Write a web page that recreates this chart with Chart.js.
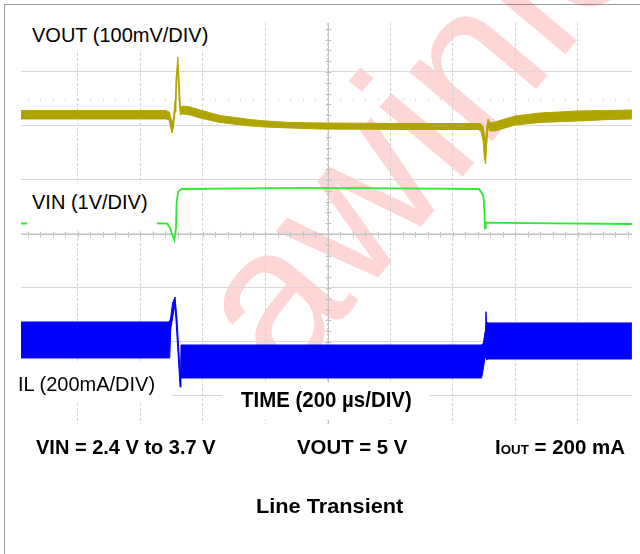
<!DOCTYPE html>
<html>
<head>
<meta charset="utf-8">
<script src="https://cdn.jsdelivr.net/npm/chart.js@4.4.1/dist/chart.umd.min.js"></script>
<style>
  html, body { margin: 0; padding: 0; background: #fff; }
  #wrap { position: relative; width: 640px; height: 554px; overflow: hidden; background: #fff; }
  #frame { position: absolute; left: 4px; top: 4px; width: 700px; height: 700px;
           border-left: 1px solid #9c9c9c; border-top: 1px solid #9c9c9c; }
  #mark { position: absolute; left: 285px; top: 213.5px; white-space: nowrap;
          font: 205px "Liberation Sans", Arial, sans-serif; line-height: 205px;
          color: rgba(255, 0, 0, 0.16); transform-origin: 0 173.5px; transform: rotate(-50deg); }
  canvas { position: absolute; left: 0; top: 0; }
  .mask { position: absolute; background: #fff; }
  .lbl { position: absolute; white-space: nowrap; color: #000; transform-origin: 0 0;
         font-family: "Liberation Sans", Arial, sans-serif; }
  .reg { font-size: 20px; line-height: 20px; }
  .bold { font-weight: bold; }
  .small { font-size: 13px; }
</style>
</head>
<body>
<div id="wrap">
  <div id="frame"></div>
  <div id="mark">awinic</div>
  <canvas id="scope" width="640" height="554"></canvas>

  <div class="mask" style="left:27px;top:18px;width:190px;height:32px"></div>
  <div class="mask" style="left:27px;top:184px;width:130px;height:46px"></div>
  <div class="mask" style="left:14px;top:363px;width:158px;height:40px"></div>
  <div class="mask" style="left:222px;top:383px;width:208px;height:37px"></div>

  <div class="lbl reg" style="left:32px;top:25.4px">VOUT (100mV/DIV)</div>
  <div class="lbl reg" style="left:32px;top:192.4px">VIN (1V/DIV)</div>
  <div class="lbl reg" style="left:18px;top:374.4px">IL (200mA/DIV)</div>

  <div class="lbl bold fit" data-w="171" style="left:241px;top:389px;font-size:22px;line-height:22px">TIME (200 µs/DIV)</div>
  <div class="lbl bold fit" data-w="180" style="left:36px;top:437.4px;font-size:20px;line-height:20px">VIN = 2.4 V to 3.7 V</div>
  <div class="lbl bold fit" data-w="110" style="left:297px;top:437.4px;font-size:20px;line-height:20px">VOUT = 5 V</div>
  <div class="lbl bold fit" data-w="130" style="left:495px;top:437.4px;font-size:20px;line-height:20px">I<span class="small">OUT</span> = 200 mA</div>
  <div class="lbl bold fit" data-w="147" style="left:256px;top:495.3px;font-size:21px;line-height:21px">Line Transient</div>
</div>

<script>
// time in µs (200 µs/div, 0 = screen centre), levels in scope divisions (0 = centre line)
const voutTime = [-981, -517, -507, -501, -497, -493, -488, -485, -479, -475, -471, -469, -466, -462,
                  -440, -408, -344, -248, -200, -120, -24, 232, 482, 491, 498, 502, 506, 509, 514,
                  520, 536, 600, 680, 802, 904, 974];
const voutHigh = [2.287, 2.287, 2.259, 2.148, 2.056, 2.148, 2.481, 2.852, 3.278, 2.852, 2.370, 2.296, 2.352, 2.370,
                  2.352, 2.296, 2.194, 2.120, 2.093, 2.065, 2.056, 2.046, 2.046, 2.037, 1.981, 1.833, 1.741, 1.963, 2.130,
                  2.056, 2.074, 2.185, 2.241, 2.278, 2.287, 2.296];
const voutLow  = [2.130, 2.130, 2.111, 1.944, 1.870, 2.000, 2.259, 2.574, 3.111, 2.519, 2.204, 2.222, 2.222, 2.222,
                  2.204, 2.148, 2.065, 2.000, 1.981, 1.963, 1.944, 1.935, 1.935, 1.907, 1.722, 1.407, 1.296, 1.630, 1.981,
                  1.907, 1.907, 2.019, 2.065, 2.093, 2.120, 2.130];

const vinTime  = [-981, -728, -514, -504, -498, -490, -485, -483, -478, -472, -466, -248, -88, 232,
                  485, 494, 499, 502, 504, 506, 509, 552, 974];
const vinLevel = [0.194, 0.204, 0.194, 0.111, 0.000, -0.111, 0.111, 0.574, 0.783, 0.815, 0.833, 0.843, 0.852, 0.843,
                  0.833, 0.754, 0.691, 0.444, 0.106, 0.198, 0.209, 0.204, 0.185];

const ilTime = [-981, -510, -505, -502, -496, -488, -482, -477, -472, -469, 493, 499, 504, 507, 509, 513, 974];
const ilHigh = [-1.630, -1.630, -1.611, -1.556, -1.278, -1.167, -1.556, -2.056, -2.556, -2.056,
                -2.056, -2.019, -1.809, -1.439, -1.624, -1.648, -1.648];
const ilLow  = [-2.296, -2.296, -2.296, -1.778, -1.556, -1.315, -1.870, -2.333, -2.833, -2.667,
                -2.667, -2.481, -2.278, -2.296, -2.333, -2.315, -2.315];

const timeTicks = [-800, -600, -400, -200, 0, 200, 400, 600, 800];
const divTicks = [-3, -2, -1, 0, 1, 2, 3];

const OLIVE = '#b0a500';
const GREEN = '#2eea2e';
const BLUE = '#0000ff';

function pts(xs, ys) {
    return xs.map((x, i) => ({ x: x, y: ys[i] }));
}

// centre cross with minor ticks, plus the dotted reference row
const scopeMarks = {
    id: 'scopeMarks',
    beforeDatasetsDraw(chart) {
        const { ctx, chartArea: a, scales: { x, y } } = chart;
        const cx = Math.round(x.getPixelForValue(0)) + 0.5;
        const cy = Math.round(y.getPixelForValue(0)) + 0.5;
        const ry = Math.round(y.getPixelForValue(2.5)) + 0.5;
        ctx.save();
        ctx.strokeStyle = '#c2c2c2';
        ctx.lineWidth = 1;
        ctx.beginPath();
        ctx.moveTo(a.left, cy);
        ctx.lineTo(a.right, cy);
        ctx.moveTo(cx, a.top);
        ctx.lineTo(cx, a.bottom);
        for (let t = -960; t <= 960; t += 40) {
            const px = Math.round(x.getPixelForValue(t)) + 0.5;
            ctx.moveTo(px, cy - 3);
            ctx.lineTo(px, cy + 3);
        }
        for (let d = -17; d <= 19; d++) {
            const py = Math.round(y.getPixelForValue(d / 5)) + 0.5;
            ctx.moveTo(cx - 3, py);
            ctx.lineTo(cx + 3, py);
        }
        ctx.stroke();
        ctx.strokeStyle = '#d0d0d0';
        ctx.beginPath();
        for (let t = -960; t <= 960; t += 40) {
            const px = Math.round(x.getPixelForValue(t)) + 0.5;
            ctx.moveTo(px, ry - 1);
            ctx.lineTo(px, ry + 1);
        }
        ctx.stroke();
        ctx.restore();
    }
};

const ctx = document.getElementById('scope').getContext('2d');
new Chart(ctx, {
    type: 'line',
    data: {
        datasets: [
            { label: 'VOUT hi', data: pts(voutTime, voutHigh), borderColor: OLIVE, borderWidth: 1, fill: false },
            { label: 'VOUT lo', data: pts(voutTime, voutLow), borderColor: OLIVE, borderWidth: 1, fill: '-1', backgroundColor: OLIVE },
            { label: 'VIN', data: pts(vinTime, vinLevel), borderColor: GREEN, borderWidth: 1.8, fill: false },
            { label: 'IL hi', data: pts(ilTime, ilHigh), borderColor: BLUE, borderWidth: 1, fill: false },
            { label: 'IL lo', data: pts(ilTime, ilLow), borderColor: BLUE, borderWidth: 1, fill: '-1', backgroundColor: BLUE }
        ]
    },
    options: {
        responsive: false,
        animation: false,
        events: [],
        layout: { autoPadding: false, padding: { left: 21, right: 8, top: 23, bottom: 130 } },
        elements: { point: { radius: 0 }, line: { tension: 0 } },
        plugins: { legend: { display: false }, tooltip: { enabled: false } },
        scales: {
            x: {
                type: 'linear',
                min: -981,
                max: 974.4,
                afterBuildTicks: s => { s.ticks = timeTicks.map(v => ({ value: v })); },
                ticks: { display: false },
                grid: { color: '#d2d2d2', drawTicks: false },
                border: { display: false, dash: [3, 2] }
            },
            y: {
                type: 'linear',
                min: -3.519,
                max: 3.907,
                afterBuildTicks: s => { s.ticks = divTicks.map(v => ({ value: v })); },
                ticks: { display: false },
                grid: { color: '#d8d8d8', drawTicks: false },
                border: { display: false }
            }
        }
    },
    plugins: [scopeMarks]
});

document.querySelectorAll('.fit').forEach(el => {
    const w = Number(el.dataset.w);
    el.style.transform = 'scaleX(' + (w / el.offsetWidth).toFixed(3) + ')';
});
</script>
</body>
</html>
